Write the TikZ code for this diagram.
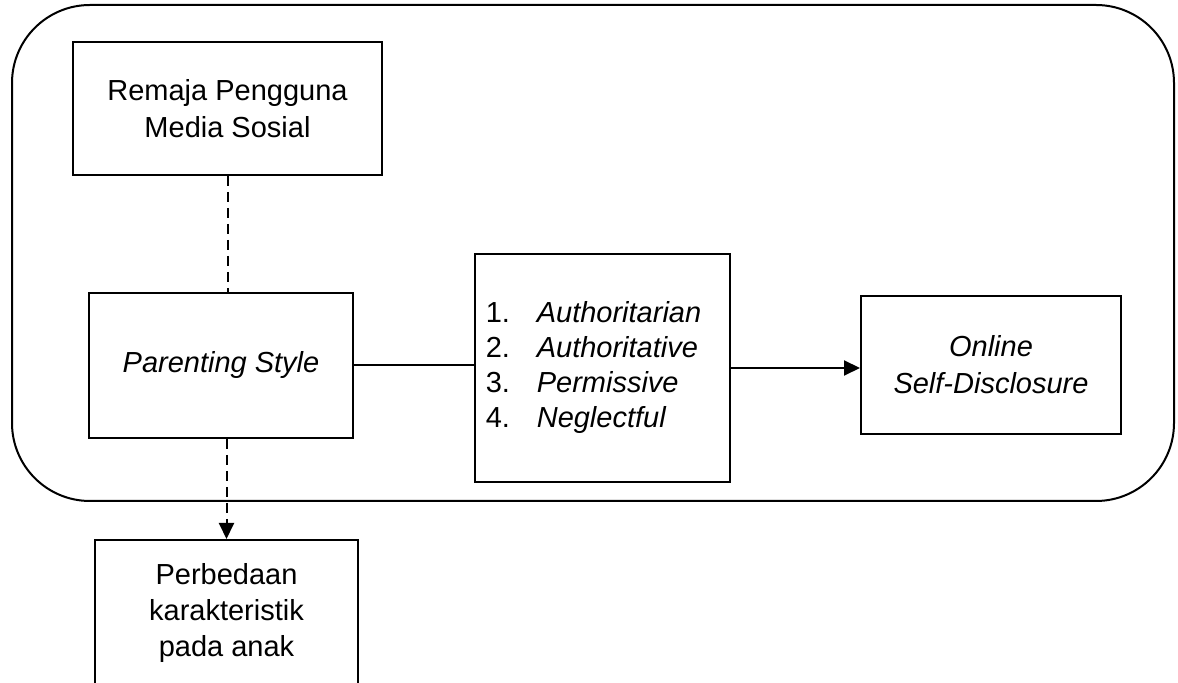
\documentclass[tikz,border=0pt]{standalone}
\usepackage{fontspec}
\setmainfont{Liberation Sans}
\usetikzlibrary{arrows.meta}
\newcommand{\itemnum}[1]{\makebox[1.76em][l]{#1}}
\begin{document}
\begin{tikzpicture}[x=0.5pt,y=-0.5pt,
  line width=1pt,
  boxnode/.style={draw,rectangle,align=center,inner sep=0pt,
    font=\fontsize{14.5pt}{18.5pt}\selectfont},
  dashline/.style={dash pattern=on 5pt off 3pt},
  tip/.style={-{Triangle[length=8pt,width=7.5pt]}}]
\useasboundingbox (0,0) rectangle (1178,683);
\clip (0,0) rectangle (1178,683);
% outer rounded frame
\draw[rounded corners=39pt] (12,5) rectangle (1174,501);
% nodes
\node[boxnode,minimum width=154.5pt,minimum height=66.5pt] (rem) at (227.5,108.5) {Remaja Pengguna\\Media Sosial};
\node[boxnode,minimum width=132pt,minimum height=72.5pt] (ps) at (221,365.5) {\textit{Parenting Style}};
\node[boxnode,minimum width=127.5pt,minimum height=114pt,align=left,
  font=\fontsize{14.5pt}{17.5pt}\selectfont] (list) at (602.5,368)
  {\itemnum{1.}\textit{Authoritarian}\hspace*{9pt}\\\itemnum{2.}\textit{Authoritative}\\\itemnum{3.}\textit{Permissive}\\\itemnum{4.}\textit{Neglectful}};
\node[boxnode,minimum width=130pt,minimum height=69pt] (osd) at (991,365) {\textit{Online}\\\textit{Self-Disclosure}};
\node[boxnode,minimum width=131.5pt,minimum height=73pt,
  font=\fontsize{14.5pt}{17.8pt}\selectfont] (per) at (226.5,613) {Perbedaan\\karakteristik\\pada anak};
% connectors
\draw[dashline] (rem.south) -- (rem.south |- ps.north);
\draw[dashline,tip] (per.north |- ps.south) -- (per.north);
\draw (ps.east) -- (ps.east -| list.west);
\draw[tip] (list.east) -- (list.east -| osd.west);
\end{tikzpicture}
\end{document}
